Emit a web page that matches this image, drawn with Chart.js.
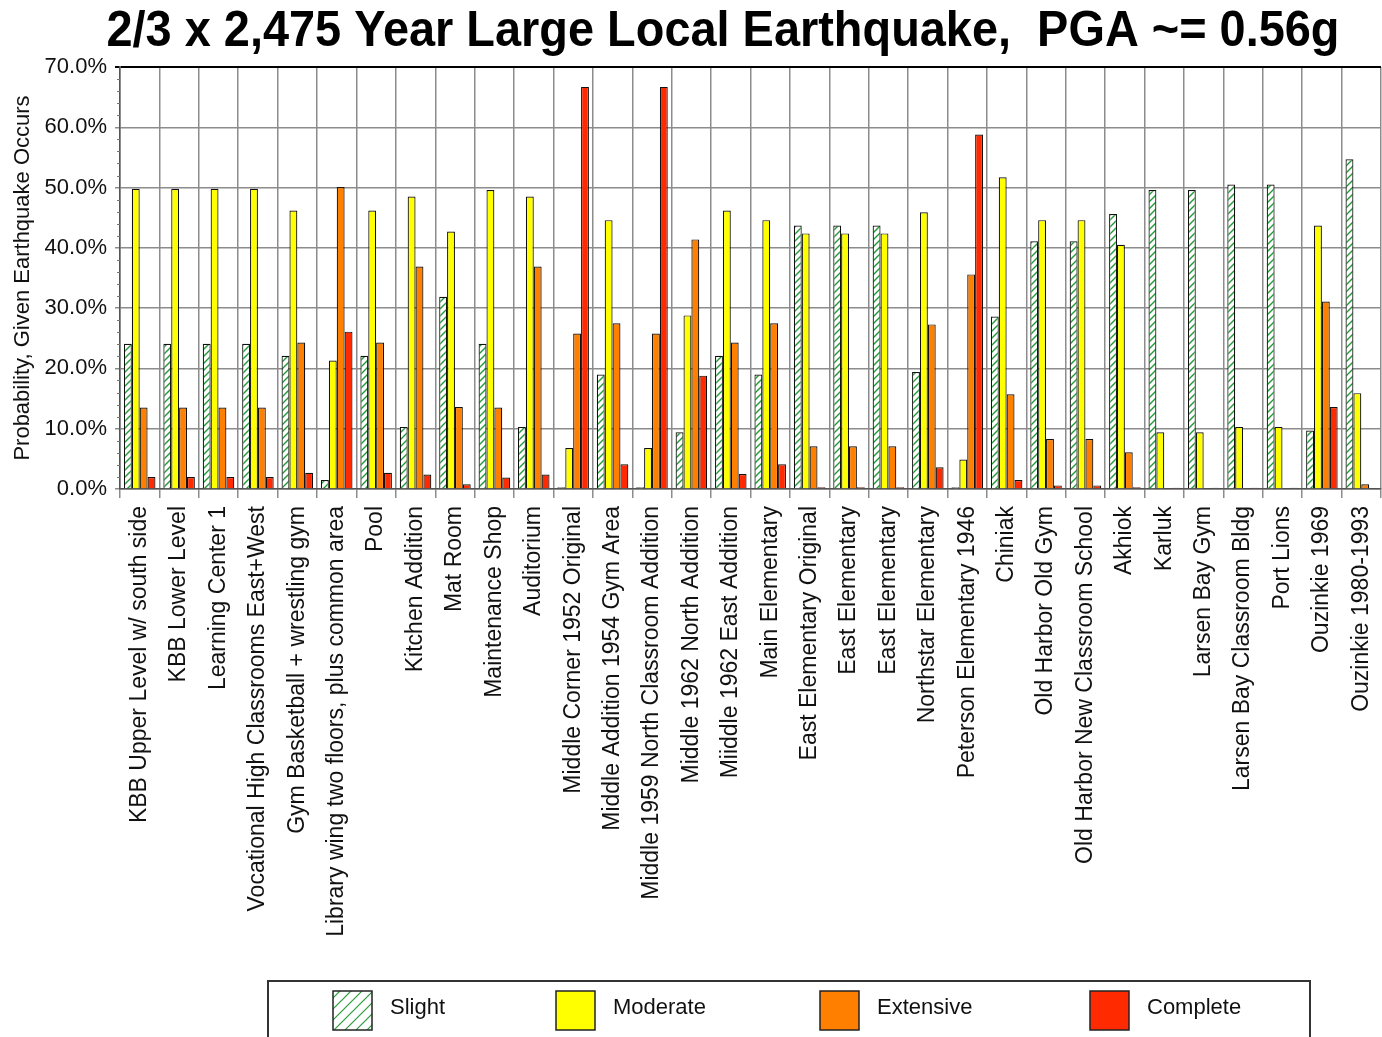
<!DOCTYPE html>
<html><head><meta charset="utf-8">
<script src="https://cdn.jsdelivr.net/npm/chart.js@4.4.0/dist/chart.umd.min.js"></script>
<style>html,body{margin:0;padding:0;background:#fff;}#wrap{width:1382px;height:1037px;position:relative;}</style>
</head><body><div id="wrap"><canvas id="c"></canvas></div>
<script>
const chartTitle = "2/3 x 2,475 Year Large Local Earthquake,  PGA ~= 0.56g";
const yAxisTitle = "Probability, Given Earthquake Occurs";
const categories = [
  "KBB Upper Level w/ south side","KBB Lower Level","Learning Center 1","Vocational High Classrooms East+West",
  "Gym Basketball + wrestling gym","Library wing two floors, plus common area","Pool","Kitchen Addition",
  "Mat Room","Maintenance Shop","Auditorium","Middle Corner 1952 Original","Middle Addition 1954 Gym Area",
  "Middle 1959 North Classroom Addition","Middle 1962 North Addition","Miiddle 1962 East Addition",
  "Main Elementary","East Elementary Original","East Elementary","East Elementary","Northstar Elementary",
  "Peterson Elementary 1946","Chiniak","Old Harbor Old Gym","Old Harbor New Classroom School","Akhiok",
  "Karluk","Larsen Bay Gym","Larsen Bay Classroom Bldg","Port Lions","Ouzinkie 1969","Ouzinkie 1980-1993"
];
const seriesNames = ["Slight","Moderate","Extensive","Complete"];
const slight    = [24.1,24.1,24.1,24.1,22.1,1.5,22.1,10.3,31.9,24.1,10.3,0.3,19.0,0.3,9.4,22.1,19.0,43.7,43.7,43.7,19.4,0.3,28.6,41.1,41.1,45.6,49.6,49.6,50.5,50.5,9.7,54.7];
const moderate  = [49.8,49.8,49.8,49.8,46.2,21.3,46.2,48.5,42.7,49.6,48.5,6.8,44.6,6.8,28.8,46.2,44.6,42.4,42.4,42.4,45.9,4.9,51.7,44.6,44.6,40.5,9.4,9.4,10.3,10.3,43.7,15.9];
const extensive = [13.5,13.5,13.5,13.5,24.3,50.1,24.3,36.9,13.6,13.5,36.9,25.8,27.5,25.8,41.4,24.3,27.5,7.1,7.1,7.1,27.3,35.6,15.7,8.3,8.3,6.1,0.1,0.1,0.1,0.1,31.1,0.8];
const complete  = [2.0,2.0,2.0,2.0,2.7,26.1,2.7,2.4,0.8,1.9,2.4,66.7,4.1,66.7,18.8,2.5,4.1,0.3,0.3,0.3,3.6,58.8,1.5,0.6,0.6,0.3,0.2,0.2,0.2,0.2,13.6,0.1];
const yMin = 0, yMax = 70, yStep = 10;

const FONT = "'Liberation Sans', Arial, sans-serif";

// hatch pattern for "Slight"
const pc = document.createElement('canvas'); pc.width = 7; pc.height = 7;
const pctx = pc.getContext('2d');
pctx.fillStyle = '#fff'; pctx.fillRect(0,0,7,7);
pctx.strokeStyle = '#1f9a33'; pctx.lineWidth = 1.4;
pctx.beginPath(); pctx.moveTo(0,7); pctx.lineTo(7,0); pctx.moveTo(-2,2); pctx.lineTo(2,-2); pctx.moveTo(5,9); pctx.lineTo(9,5); pctx.stroke();
const hatch = pctx.createPattern(pc,'repeat');

const lc = document.createElement('canvas'); lc.width = 11; lc.height = 11;
const lctx = lc.getContext('2d');
lctx.fillStyle = '#fff'; lctx.fillRect(0,0,11,11);
lctx.strokeStyle = '#2a9a3a'; lctx.lineWidth = 1.2;
lctx.beginPath(); lctx.moveTo(0,11); lctx.lineTo(11,0); lctx.moveTo(-2,2); lctx.lineTo(2,-2); lctx.moveTo(9,13); lctx.lineTo(13,9); lctx.stroke();
const legendHatch = lctx.createPattern(lc,'repeat');

const colors = [hatch, '#ffff00', '#ff7f00', '#ff2a00'];
const values = [slight, moderate, extensive, complete];

const titlePlugin = {
  id: 'titleLegend',
  afterDraw(chart) {
    const ctx = chart.ctx;
    ctx.save();
    // title
    ctx.font = "bold 50px 'Liberation Sans', Arial, sans-serif";
    ctx.fillStyle = '#000'; ctx.textAlign = 'center'; ctx.textBaseline = 'alphabetic';
    ctx.fillText(chartTitle, 723, 46, 1233);
    // minor ticks on y axis
    const ys = chart.scales.y, left = chart.chartArea.left;
    ctx.strokeStyle = '#777'; ctx.lineWidth = 1;
    for (let v = yMin + 2; v < yMax; v += 2) {
      if (v % 10 === 0) continue;
      const py = Math.round(ys.getPixelForValue(v)) + 0.5;
      ctx.beginPath(); ctx.moveTo(left - 3, py); ctx.lineTo(left, py); ctx.stroke();
    }
    // legend
    ctx.strokeStyle = '#333'; ctx.lineWidth = 2;
    ctx.beginPath(); ctx.moveTo(268, 1040); ctx.lineTo(268, 981); ctx.lineTo(1310, 981); ctx.lineTo(1310, 1040); ctx.stroke();
    const xs = [333, 556, 820, 1090];
    ctx.font = "22px " + FONT; ctx.textAlign = 'left'; ctx.textBaseline = 'middle';
    chart.data.datasets.forEach((ds, i) => {
      ctx.fillStyle = i === 0 ? legendHatch : ds.backgroundColor;
      ctx.fillRect(xs[i], 991, 39, 39);
      ctx.strokeStyle = '#222'; ctx.lineWidth = 1.5;
      ctx.strokeRect(xs[i], 991, 39, 39);
      ctx.fillStyle = '#111';
      ctx.fillText(ds.label, xs[i] + 57, 1008);
    });
    ctx.restore();
  }
};

new Chart(document.getElementById('c'), {
  type: 'bar',
  data: {
    labels: categories,
    datasets: seriesNames.map((n, i) => ({
      label: n, data: values[i], backgroundColor: colors[i],
      borderColor: '#111', borderWidth: 1.2, borderSkipped: 'bottom',
      categoryPercentage: 0.8, barPercentage: 1.0
    }))
  },
  options: {
    responsive: true, maintainAspectRatio: false, animation: false,
    layout: { padding: { top: 67, left: 0, right: 1, bottom: 0 } },
    plugins: { legend: { display: false }, title: { display: false }, tooltip: { enabled: false } },
    scales: {
      x: {
        grid: { offset: true, color: '#8c8c8c', lineWidth: 1.5, tickLength: 9, drawTicks: true },
        border: { color: '#555', width: 1.5 },
        ticks: { font: { size: 23, family: FONT }, color: '#111', minRotation: 90, maxRotation: 90, autoSkip: false, padding: 8 },
        afterFit(s) { s.height = 548; s.paddingLeft = 0; s.paddingRight = 0; }
      },
      y: {
        min: yMin, max: yMax,
        grid: {
          color: c => c.tick && c.tick.value === yMax ? '#000' : '#8c8c8c',
          lineWidth: c => c.tick && c.tick.value === yMax ? 2 : 1.5,
          tickLength: 5
        },
        border: { color: '#555', width: 1.5 },
        ticks: { stepSize: yStep, font: { size: 22, family: FONT }, color: '#111', padding: 8,
                 callback: v => v.toFixed(1) + '%' },
        title: { display: true, text: yAxisTitle, font: { size: 22, family: FONT }, color: '#111', padding: { top: 10, bottom: 0 } },
        afterFit(s) { s.width = 120; s.paddingTop = 0; s.paddingBottom = 0; }
      }
    }
  },
  plugins: [titlePlugin]
});
</script></body></html>
